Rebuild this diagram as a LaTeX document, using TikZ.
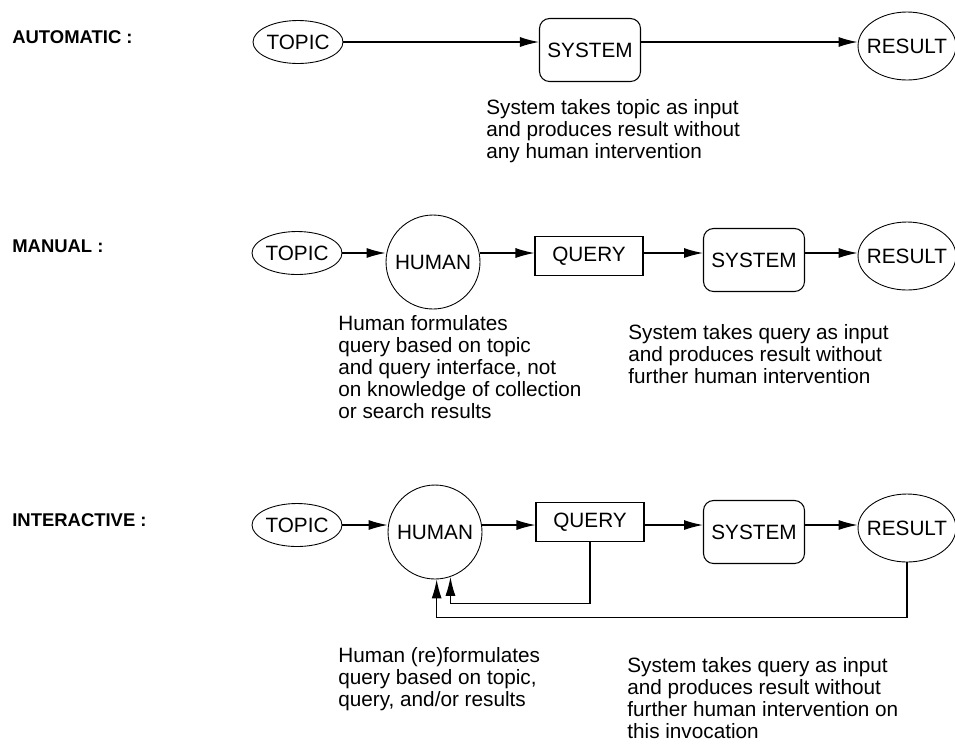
\documentclass[tikz,border=0pt]{standalone}
\usepackage{fontspec}
\setmainfont{Liberation Sans}
\usetikzlibrary{arrows.meta,shapes.geometric}

\begin{document}
\begin{tikzpicture}[x=0.02cm,y=-0.02cm,
    every node/.style={inner sep=0pt,font=\fontsize{11.8}{12.5}\selectfont},
    oval/.style={draw,ellipse,line width=0.5pt,inner xsep=-4pt,minimum width=1.8cm,minimum height=0.86cm},
    bigoval/.style={oval,minimum width=1.96cm,minimum height=1.36cm},
    person/.style={draw,circle,line width=0.5pt,minimum size=1.88cm},
    qbox/.style={draw,rectangle,line width=0.6pt,minimum width=2.16cm,minimum height=0.78cm},
    sysbox/.style={draw,rectangle,rounded corners=0.2cm,line width=0.6pt,minimum width=2.02cm,minimum height=1.26cm},
    desc/.style={anchor=north west,align=left},
    modelabel/.style={anchor=west,font=\fontsize{10.5}{12}\selectfont\bfseries},
    flow/.style={-{Latex[length=0.38cm,width=0.2cm]},line width=0.7pt}]
      \useasboundingbox (0,0) rectangle (955,748);
      % automatic
      \draw
        (12,37) node[modelabel] (autolbl){AUTOMATIC :}
        (298,42) node[oval] (topicA){TOPIC}
        (590,50) node[sysbox] (sysA){SYSTEM}
        (907,46) node[bigoval] (resA){RESULT}
        (486,99) node[desc] (descA){System takes topic as input\\and produces result without\\any human intervention};
      % manual
      \draw
        (12,246) node[modelabel] (manlbl){MANUAL :}
        (297,253) node[oval] (topicB){TOPIC}
        (433,262) node[person] (humanB){HUMAN}
        (589,256) node[qbox] (queryB){QUERY}
        (754,260) node[sysbox] (sysB){SYSTEM}
        (907,256) node[bigoval] (resB){RESULT}
        (338,315) node[desc] (descB){Human formulates\\query based on topic\\and query interface, not\\on knowledge of collection\\or search results}
        (628,324) node[desc] (descBsys){System takes query as input\\and produces result without\\further human intervention};
      % interactive
      \draw
        (12,520) node[modelabel] (intlbl){INTERACTIVE :}
        (297,525) node[oval] (topicC){TOPIC}
        (435,532) node[person] (humanC){HUMAN}
        (590,522) node[qbox] (queryC){QUERY}
        (754,532) node[sysbox] (sysC){SYSTEM}
        (907,528) node[bigoval] (resC){RESULT}
        (338,647) node[desc] (descC){Human (re)formulates\\query based on topic,\\query, and/or results}
        (627,657) node[desc] (descCsys){System takes query as input\\and produces result without\\further human intervention on\\this invocation};
      \path (humanC.-71) ++(0,27) coordinate (qturn);
      \path (humanC.-88) ++(0,38) coordinate (rturn);
      \begin{scope}[flow]
        \draw (topicA) to (topicA -| sysA.west);
        \draw (sysA.east |- topicA) to (topicA -| resA.west);
        \draw (topicB) to (topicB -| humanB.west);
        \draw (humanB.east |- topicB) to (topicB -| queryB.west);
        \draw (queryB.east |- topicB) to (topicB -| sysB.west);
        \draw (sysB.east |- topicB) to (topicB -| resB.west);
        \draw (topicC) to (topicC -| humanC.west);
        \draw (humanC.east |- topicC) to (topicC -| queryC.west);
        \draw (queryC.east |- topicC) to (topicC -| sysC.west);
        \draw (sysC.east |- topicC) to (topicC -| resC.west);
        \draw (queryC.south) |- (qturn) -- (humanC.-71);
        \draw (resC.south) |- (rturn) -- (humanC.-88);
      \end{scope}
    \end{tikzpicture}
\end{document}
